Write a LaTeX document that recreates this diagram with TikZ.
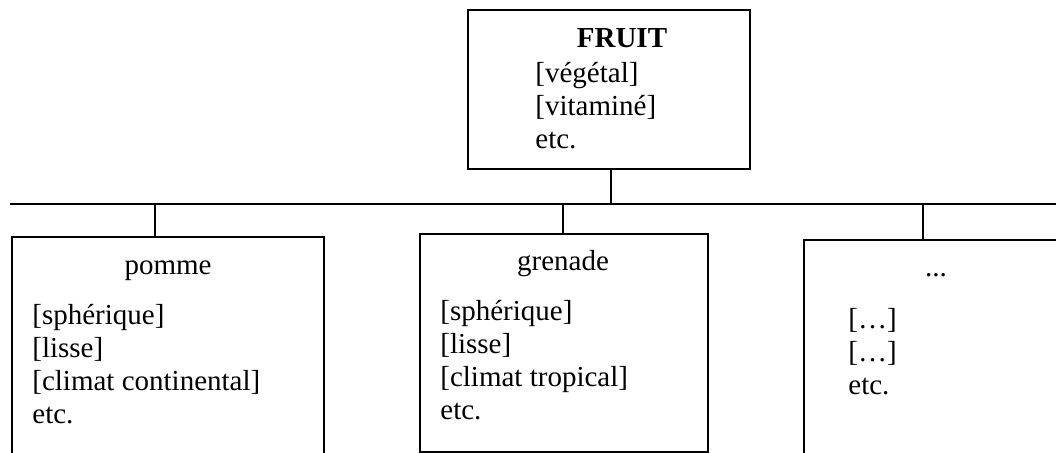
\documentclass[tikz,border=0pt]{standalone}
\usepackage{fontspec}
\setmainfont{Liberation Serif}
\begin{document}
\begin{tikzpicture}[x=0.5pt,y=-0.5pt,
  box/.style={draw=black,line width=0.9pt,inner sep=0pt,anchor=north west},
  conn/.style={draw=black,line width=0.9pt},
  txt/.style={inner sep=0pt,anchor=base west,font=\fontsize{14.5}{16.5}\selectfont},
  ctxt/.style={inner sep=0pt,anchor=base,font=\fontsize{14.5}{16.5}\selectfont}]
\useasboundingbox (0,0) rectangle (1056,453);
\clip (0,0) rectangle (1056,453);
% boxes
\node[box,minimum width=141pt,minimum height=79.5pt] (fruit) at (467,9) {};
\node[box,minimum width=156pt,minimum height=130pt] (pomme) at (11,236.5) {};
\node[box,minimum width=144pt,minimum height=109pt] (grenade) at (419,233) {};
\node[box,minimum width=160pt,minimum height=130pt] (autre) at (803,239) {};
% bus
\coordinate (busL) at (10,204);
\coordinate (busR) at (1060,204);
\coordinate (f0) at (611,204);
\coordinate (d1) at (155,204);
\coordinate (d2) at (563,204);
\coordinate (d3) at (923,204);
\draw[conn] (busL) -- (busR);
\draw[conn] (f0 |- fruit.south) -- (f0);
\draw[conn] (d1) -- (d1 |- pomme.north);
\draw[conn] (d2) -- (d2 |- grenade.north);
\draw[conn] (d3) -- (d3 |- autre.north);
% FRUIT text
\node[ctxt,font=\fontsize{14.5}{16.5}\selectfont\bfseries] (tf) at (622,48) {FRUIT};
\node[txt] (tf1) at (535,83) {[végétal]};
\node[txt] (tf2) at (535,116) {[vitaminé]};
\node[txt] (tf3) at (535,149) {etc.};
% pomme text
\node[ctxt] (tp) at (168,275) {pomme};
\node[txt] (tp1) at (32,325) {[sphérique]};
\node[txt] (tp2) at (32,358) {[lisse]};
\node[txt] (tp3) at (32,391) {[climat continental]};
\node[txt] (tp4) at (32,424) {etc.};
% grenade text
\node[ctxt] (tg) at (563,271) {grenade};
\node[txt] (tg1) at (440,321) {[sphérique]};
\node[txt] (tg2) at (440,354) {[lisse]};
\node[txt] (tg3) at (440,387) {[climat tropical]};
\node[txt] (tg4) at (440,420) {etc.};
% third box text
\node[ctxt] (ta) at (936,277) {...};
\node[txt] (ta1) at (848,329) {[…]};
\node[txt] (ta2) at (848,362) {[…]};
\node[txt] (ta3) at (848,395) {etc.};
\end{tikzpicture}
\end{document}
